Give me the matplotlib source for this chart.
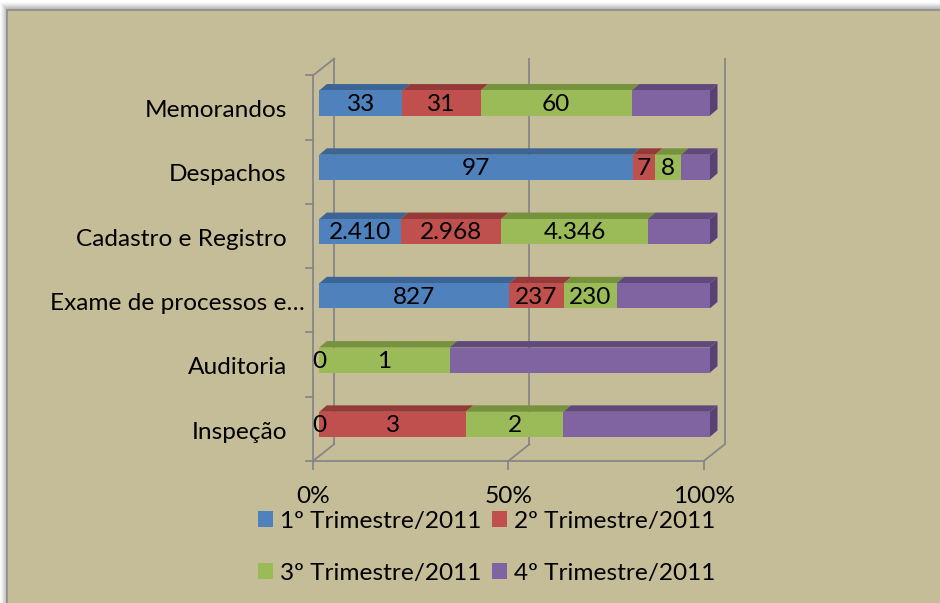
import matplotlib
matplotlib.use("Agg")
import matplotlib.pyplot as plt
from matplotlib.patches import Polygon, Rectangle, Patch
import numpy as np

plt.rcParams['font.family'] = ['Lato', 'DejaVu Sans']

# ---- data ----
categories = ["Inspeção", "Auditoria", "Exame de processos e…",
              "Cadastro e Registro", "Despachos", "Memorandos"]
series_names = ["1º Trimestre/2011", "2º Trimestre/2011",
                "3º Trimestre/2011", "4º Trimestre/2011"]
q1 = [0, 0, 827, 2410, 97, 33]
q2 = [3, None, 237, 2968, 7, 31]
q3 = [2, 1, 230, 4346, 8, 60]
q4 = [3, 2, 406, 1838, 9, 31]   # not labelled in the chart
show_labels = [True, True, True, False]
x_ticks = [0, 50, 100]
x_tick_labels = ["0%", "50%", "100%"]

colors = ["#4F81BD", "#C0504D", "#9BBB59", "#8064A2"]
top_colors = ["#3C6595", "#943B39", "#76923C", "#604A7B"]
side_color = "#584273"
bg = "#C4BD97"
grid_c = "#868686"

W, H = 940, 603
fig = plt.figure(figsize=(W / 100, H / 100), dpi=100)
fig.patch.set_facecolor("white")

# shadow + chart area (figure pixel coords)
pax = fig.add_axes([0, 0, 1, 1])
pax.set_xlim(0, W)
pax.set_ylim(H, 0)
pax.axis("off")
for i in range(8):
    a = 0.10 + 0.06 * i
    pax.add_patch(Rectangle((i + 0.0, 2 + i), W, H, facecolor=(0.5, 0.5, 0.5, a * 0.35),
                            edgecolor="none"))
pax.add_patch(Rectangle((7, 10), W, H, facecolor=bg, edgecolor="#8C8C8C", linewidth=1.2))

# ---- main axes: x in percent, y in category units ----
px_per_pct = 3.907
x0_px = 319.3
px_per_cat = 64.26
y0_px = 424.3
ax = fig.add_axes([0, 0, 1, 1])
ax.set_xlim((0 - x0_px) / px_per_pct, (W - x0_px) / px_per_pct)
ax.set_ylim((y0_px - H) / px_per_cat, y0_px / px_per_cat)
ax.axis("off")
ax.patch.set_alpha(0)

n = len(categories)
ypos = np.arange(n)
vals = [q1, q2, q3, q4]
arr = np.array([[np.nan if v is None else v for v in s] for s in vals], dtype=float)
totals = np.nansum(arr, axis=0)
pct = np.nan_to_num(arr) / totals * 100

# 3D geometry (units: percent, category)
bh = 0.39
ddx, ddy = 1.92, 0.10          # bar depth
fx, fy = -1.6, -0.07           # front plane offset
wx, wy = 5.4, 0.26             # wall depth

# walls / axes
lw = 1.3
front_left = fx
front_bottom = -0.5 + fy
front_top = n - 0.5 + fy
ax.plot([front_left, front_left], [front_bottom, front_top], color=grid_c, lw=lw)
ax.plot([front_left, front_left + wx], [front_top, front_top + wy], color=grid_c, lw=lw)
ax.plot([front_left + x_ticks[0], front_left + x_ticks[-1]], [front_bottom] * 2, color=grid_c, lw=lw)
for t in x_ticks:
    xf = front_left + t
    ax.plot([xf + wx, xf + wx], [front_bottom + wy, front_top + wy], color=grid_c, lw=lw)
    ax.plot([xf, xf + wx], [front_bottom, front_bottom + wy], color=grid_c, lw=lw)
    ax.plot([xf, xf], [front_bottom, front_bottom - 0.13], color=grid_c, lw=lw)
for k in range(n + 1):
    yb = k - 0.5 + fy
    ax.plot([front_left - 1.9, front_left], [yb, yb], color=grid_c, lw=lw)

# bars
lefts = np.zeros(n)
for s in range(4):
    w = pct[s]
    ax.barh(ypos, w, left=lefts, height=bh, color=colors[s], edgecolor="none",
            label=series_names[s], zorder=3)
    for i in range(n):
        if w[i] > 0:
            l, r = lefts[i], lefts[i] + w[i]
            yt = ypos[i] + bh / 2
            ax.add_patch(Polygon([(l, yt), (l + ddx, yt + ddy), (r + ddx, yt + ddy), (r, yt)],
                                 closed=True, facecolor=top_colors[s], edgecolor="none", zorder=2))
    lefts = lefts + w
for i in range(n):
    yb_, yt_ = ypos[i] - bh / 2, ypos[i] + bh / 2
    ax.add_patch(Polygon([(100, yb_), (100 + ddx, yb_ + ddy), (100 + ddx, yt_ + ddy), (100, yt_)],
                         closed=True, facecolor=side_color, edgecolor="none", zorder=2))

# data labels
fs = 17.6
lefts = np.zeros(n)
for s in range(4):
    for i in range(n):
        v = arr[s][i]
        if show_labels[s] and not np.isnan(v):
            txt = f"{int(v):,}".replace(",", ".")
            ax.text(lefts[i] + pct[s][i] / 2, ypos[i] - 0.02, txt, ha="center", va="center",
                    fontsize=fs, color="black", zorder=5)
    lefts = lefts + pct[s]

# category labels (truncated label overflows to the right, as in the original)
for i, c in enumerate(categories):
    xr = -3.7 if c.endswith("…") else -8.3
    ax.text(xr, ypos[i] + fy - 0.05, c, ha="right", va="center", fontsize=fs, color="black")

# x tick labels
for t, lab in zip(x_ticks, x_tick_labels):
    ax.text(front_left + t, -1.13, lab, ha="center", va="center", fontsize=fs, color="black")

handles = [Patch(facecolor=colors[s], edgecolor="none") for s in range(4)]
order = [0, 2, 1, 3]   # row-major filling with 2 columns
fig.legend([handles[i] for i in order], [series_names[i] for i in order],
           loc="upper left", bbox_to_anchor=(258 / W, 1 - 511 / H), ncol=2,
           frameon=False, fontsize=fs, handlelength=0.62, handleheight=0.62,
           handletextpad=0.3, columnspacing=0.4, labelspacing=1.25,
           borderpad=0, borderaxespad=0)

fig.savefig("out.png", dpi=100, facecolor=fig.get_facecolor())
